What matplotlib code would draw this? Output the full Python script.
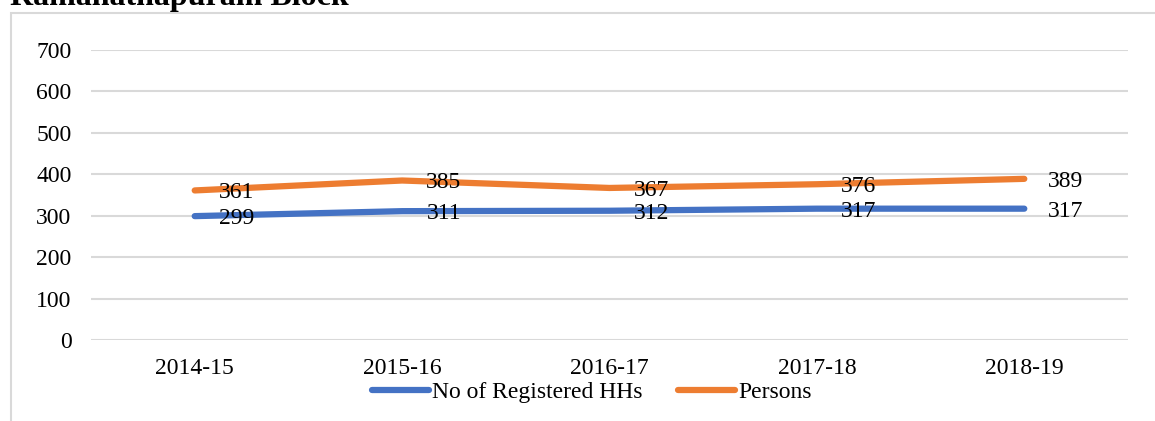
import matplotlib.pyplot as plt
import matplotlib.patches as patches

plt.rcParams['font.family'] = ['Liberation Serif', 'DejaVu Serif']

years = ['2014-15', '2015-16', '2016-17', '2017-18', '2018-19']
households = [299, 311, 312, 317, 317]
persons = [361, 385, 367, 376, 389]
title = 'Ramanathapuram Block'

BLUE = '#4472C4'
ORANGE = '#ED7D31'
GRID = '#d9d9d9'

W, H = 1155, 421
fig = plt.figure(figsize=(W / 100, H / 100), dpi=100)

# chart frame (cropped on right and bottom)
fig.patches.append(patches.Rectangle((11 / W, -0.1), 1.2, 1 - 13 / H + 0.1,
                                     transform=fig.transFigure, fill=False,
                                     edgecolor=GRID, linewidth=1.5))
fig.text(10 / W, 1 - 5 / H, title, fontsize=23, fontweight='bold',
         va='baseline', ha='left')

ax = fig.add_axes([91 / W, 1 - 340 / H, (1128 - 91) / W, 290 / H])
x = list(range(len(years)))

ax.plot(x, households, color=BLUE, lw=4.5, solid_capstyle='round',
        label='No of Registered HHs', zorder=3)
ax.plot(x, persons, color=ORANGE, lw=4.5, solid_capstyle='round',
        label='Persons', zorder=3)

for series in (households, persons):
    for xi, v in zip(x, series):
        ax.annotate(str(v), (xi, v), xytext=(30, 0), textcoords='offset points',
                    ha='center', va='center_baseline', fontsize=17, zorder=4)

ax.set_xlim(-0.5, len(years) - 0.5)
ax.set_ylim(0, 700)
ax.set_yticks(range(0, 701, 100))
ax.set_xticks(x)
ax.set_xticklabels(years)
ax.tick_params(axis='both', length=0, labelsize=17)
ax.tick_params(axis='y', pad=14)
ax.tick_params(axis='x', pad=13)
ax.grid(axis='y', color=GRID, lw=1.5)
ax.set_axisbelow(True)
for s in ax.spines.values():
    s.set_visible(False)

ax.legend(loc='center', bbox_to_anchor=(592 / W, 1 - 392 / H),
          bbox_transform=fig.transFigure, ncol=2, frameon=False,
          fontsize=17, handlelength=2.4, handletextpad=0.15,
          columnspacing=1.5, borderpad=0)

fig.savefig('out.png', dpi=100)
